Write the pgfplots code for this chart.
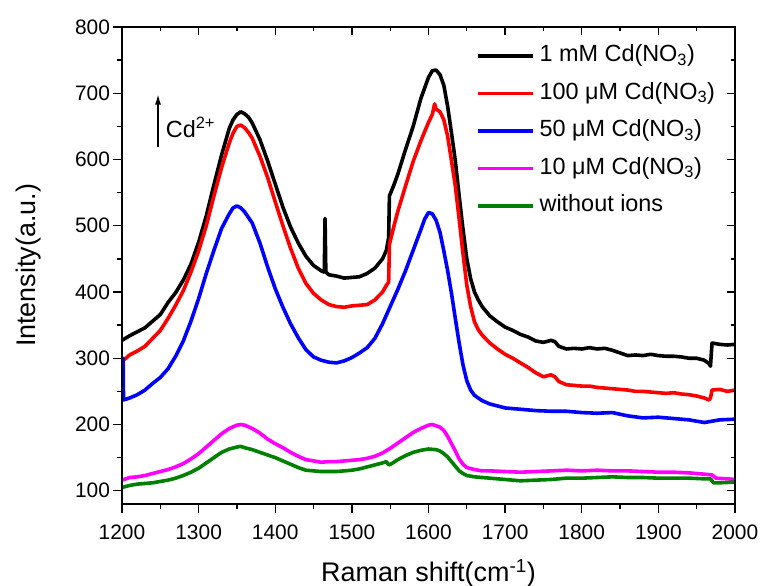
\documentclass[border=0pt]{standalone}
\usepackage{fontspec}
\setmainfont{Liberation Sans}
\usepackage{pgfplots}
\pgfplotsset{compat=1.18}
\usetikzlibrary{arrows.meta}
\definecolor{sRed}{RGB}{255,0,0}
\definecolor{sBlue}{RGB}{0,0,255}
\definecolor{sMagenta}{RGB}{255,0,255}
\definecolor{sGreen}{RGB}{0,128,0}
\newcommand{\tickfont}{\fontsize{21}{25}\selectfont}
\newcommand{\legfont}{\fontsize{23.5}{28}\selectfont}
\newcommand{\labelfont}{\fontsize{27}{32}\selectfont}
\begin{document}
\begin{tikzpicture}
\pgfplotsset{
  frame/.style={
    scale only axis, width=613bp, height=477bp,
    xmin=1200, xmax=2000, ymin=80, ymax=800,
    xtick={1200,1300,...,2000}, ytick={100,200,...,800},
    minor x tick num=1, minor y tick num=1,
    major tick length=8.5bp, minor tick length=4.5bp,
    axis line style={line width=1.3bp},
    every tick/.style={line width=1.3bp, black},
    every minor tick/.style={line width=1.3bp, black},
    scaled ticks=false,
    /pgf/number format/assume math mode=true,
    /pgf/number format/set thousands separator={},
    tick label style={font=\tickfont},
  },
  spec/.style={line width=3.6bp, line join=round, no markers},
}
\begin{axis}[frame,
  xtick pos=left, ytick pos=left, tick align=outside,
  xlabel={Raman shift(cm\textsuperscript{-1})},
  ylabel={Intensity(a.u.)},
  label style={font=\labelfont},
  xlabel style={at={(axis description cs:0.5,-0.145)}, anchor=center},
  ylabel style={at={(axis description cs:-0.153,0.5)}, anchor=center},
  xticklabel style={yshift=-9bp},
  legend style={draw=none, fill=none, font=\legfont,
    at={(axis description cs:0.5775,0.963)}, anchor=north west,
    inner sep=0pt, outer sep=0pt, row sep=14.5bp, column sep=5bp,
    nodes={inner sep=0pt, text height=17bp, text depth=6bp}},
  legend cell align=left,
  legend image code/.code={\draw[#1, line width=3.6bp] (0bp,0bp) -- (55bp,0bp);},
]
\coordinate (ll) at (rel axis cs:0,0);
\coordinate (ur) at (rel axis cs:1,1);

% 1 mM
\addplot[spec, black] coordinates {
(1200,327) (1210,334) (1220,340) (1230,346) (1240,356) (1250,366) (1260,384) (1270,399)
(1280,418) (1290,442) (1300,475) (1310,515) (1320,562) (1330,607) (1340,647) (1345,660)
(1350,668) (1355,672) (1360,669) (1365,664) (1370,655) (1380,630) (1390,598) (1400,563)
(1410,528) (1420,498) (1430,474) (1440,454) (1450,440) (1460,432) (1464,430) (1465,511)
(1466,430) (1470,426) (1480,424) (1490,421) (1500,422) (1510,423) (1520,428) (1530,436)
(1540,450) (1545,463) (1548,482) (1549,545) (1555,562) (1560,578) (1570,615) (1580,650)
(1590,692) (1600,724) (1605,734) (1610,735) (1615,728) (1620,712) (1625,680) (1630,640)
(1635,598) (1640,545) (1645,495) (1650,450) (1655,420) (1660,400) (1665,388) (1670,378)
(1680,364) (1690,355) (1700,347) (1710,342) (1720,336) (1730,332) (1740,326) (1750,324)
(1760,327) (1765,325) (1770,318) (1780,314) (1790,315) (1800,314) (1810,316) (1820,314)
(1830,315) (1840,312) (1850,308) (1860,304) (1870,305) (1880,304) (1890,306) (1900,304)
(1910,303) (1920,303) (1930,302) (1940,300) (1950,300) (1960,297) (1966,292) (1968,288)
(1970,323) (1975,322) (1980,321) (1990,320) (2000,321)
};
\addlegendentry{1 mM Cd(NO\textsubscript{3})}

% 100 uM
\addplot[spec, sRed] coordinates {
(1200,295) (1210,305) (1220,311) (1230,318) (1240,330) (1250,342) (1260,360) (1270,380)
(1280,402) (1290,430) (1300,462) (1310,500) (1320,545) (1330,588) (1340,625) (1345,640)
(1350,650) (1355,652) (1360,648) (1365,641) (1370,632) (1380,605) (1390,573) (1400,536)
(1410,500) (1420,466) (1430,436) (1440,413) (1450,398) (1460,388) (1470,381) (1480,378)
(1490,377) (1500,379) (1510,380) (1520,381) (1530,388) (1540,400) (1545,410) (1548,415)
(1549,472) (1555,500) (1560,522) (1570,560) (1580,597) (1590,628) (1600,656) (1605,668)
(1608,684) (1610,676) (1615,672) (1620,660) (1625,635) (1630,598) (1635,560) (1640,510)
(1645,458) (1650,410) (1655,378) (1660,355) (1665,343) (1670,335) (1680,323) (1690,314)
(1700,306) (1710,300) (1720,293) (1730,286) (1740,278) (1750,272) (1760,275) (1765,272)
(1770,265) (1780,260) (1790,259) (1800,258) (1810,258) (1820,256) (1830,255) (1840,254)
(1850,253) (1860,252) (1870,250) (1880,250) (1890,249) (1900,248) (1910,247) (1920,248)
(1930,246) (1940,245) (1950,243) (1960,240) (1966,237) (1968,240) (1970,252) (1980,253)
(1990,250) (2000,252)
};
\addlegendentry{100 μM Cd(NO\textsubscript{3})}

% 50 uM
\addplot[spec, sBlue] coordinates {
(1200,300) (1201.5,300) (1202,237) (1210,240) (1220,245) (1230,252) (1240,262) (1250,271)
(1260,284) (1270,303) (1280,326) (1290,356) (1300,390) (1310,428) (1320,463) (1330,496)
(1340,518) (1345,527) (1350,530) (1355,527) (1360,521) (1370,504) (1380,474) (1390,438)
(1400,405) (1410,377) (1420,352) (1430,331) (1440,313) (1450,302) (1460,297) (1470,294)
(1480,293) (1490,296) (1500,301) (1510,308) (1520,316) (1530,330) (1540,352) (1550,378)
(1560,404) (1570,432) (1580,463) (1590,494) (1595,510) (1600,520) (1605,518) (1610,508)
(1615,490) (1620,462) (1625,432) (1630,398) (1635,360) (1640,323) (1645,290) (1650,266)
(1655,252) (1660,244) (1670,236) (1680,231) (1690,228) (1700,225) (1720,223) (1740,221)
(1760,220) (1780,220) (1800,218) (1820,217) (1840,218) (1860,213) (1880,210) (1900,211)
(1920,209) (1940,207) (1960,203) (1970,205) (1980,207) (2000,208)
};
\addlegendentry{50 μM Cd(NO\textsubscript{3})}

% 10 uM
\addplot[spec, sMagenta] coordinates {
(1200,116) (1210,120) (1220,121) (1230,123) (1240,126) (1250,129) (1260,132) (1270,136)
(1280,141) (1290,148) (1300,156) (1310,166) (1320,176) (1330,186) (1340,194) (1350,199)
(1355,200) (1360,199) (1370,194) (1380,187) (1390,178) (1400,171) (1410,165) (1420,158)
(1430,152) (1440,147) (1450,145) (1460,143) (1470,144) (1480,144) (1490,145) (1500,146)
(1510,147) (1520,149) (1530,152) (1540,157) (1550,164) (1560,172) (1570,180) (1580,188)
(1590,194) (1600,199) (1605,200) (1610,198) (1615,196) (1620,191) (1625,182) (1630,171)
(1635,160) (1640,148) (1645,140) (1650,135) (1660,132) (1670,130) (1680,130) (1700,129)
(1720,128) (1740,129) (1760,130) (1780,131) (1800,130) (1820,131) (1840,130) (1860,130)
(1880,129) (1900,128) (1920,128) (1940,127) (1960,125) (1970,124) (1975,119) (1990,118)
(2000,117)
};
\addlegendentry{10 μM Cd(NO\textsubscript{3})}

% no ions
\addplot[spec, sGreen] coordinates {
(1200,105) (1210,108) (1220,110) (1230,111) (1240,112) (1250,114) (1260,116) (1270,119)
(1280,123) (1290,128) (1300,134) (1310,142) (1320,150) (1330,158) (1340,163) (1350,166)
(1355,167) (1360,165) (1370,162) (1380,158) (1390,154) (1400,150) (1410,145) (1420,140)
(1430,135) (1440,131) (1450,130) (1460,129) (1470,129) (1480,129) (1490,130) (1500,131)
(1510,133) (1520,136) (1530,139) (1540,142) (1545,144) (1548,139) (1552,141) (1560,147)
(1570,153) (1580,158) (1590,161) (1600,163) (1610,162) (1615,160) (1620,156) (1625,151)
(1630,144) (1635,137) (1640,130) (1645,126) (1650,123) (1660,121) (1680,119) (1700,117)
(1720,115) (1740,116) (1760,117) (1780,119) (1800,119) (1820,120) (1840,121) (1860,120)
(1880,120) (1900,119) (1920,119) (1940,119) (1960,118) (1968,118) (1972,112) (1980,112)
(2000,113)
};
\addlegendentry{without ions}

\draw[-{Latex[length=10bp,width=6bp]}, line width=1.2bp] (axis cs:1247,619) -- (axis cs:1247,698);
\node[anchor=west, font=\legfont, inner sep=0pt] at (axis cs:1257,648) {Cd\textsuperscript{2+}};
\end{axis}

% mirrored ticks on the top and right edges
\begin{axis}[frame,
  xtick pos=right, ytick pos=right, tick align=inside,
  xticklabels={}, yticklabels={},
]
\end{axis}

\pgfresetboundingbox
\path[use as bounding box] ([xshift=-122bp,yshift=-82bp]ll) rectangle ([xshift=26bp,yshift=27bp]ur);
\end{tikzpicture}
\end{document}
